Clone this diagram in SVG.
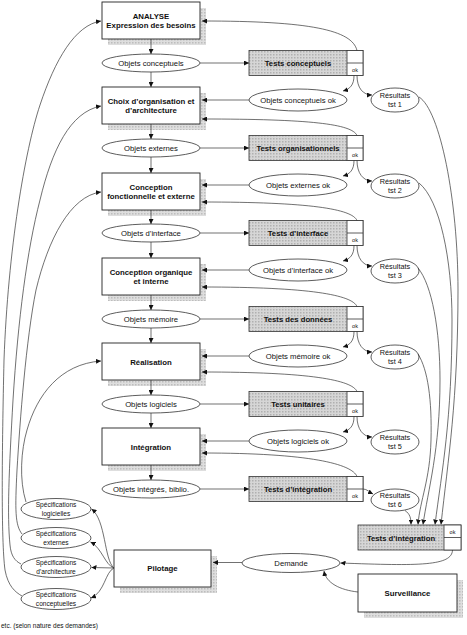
<svg xmlns="http://www.w3.org/2000/svg" width="467" height="635" viewBox="0 0 467 635">
<style>
text{font-family:"Liberation Sans",Arial,sans-serif;fill:#111;text-anchor:middle}
.b{font-weight:bold;font-size:7.8px}
.tb{font-weight:bold;font-size:7.7px}
.e{font-size:7.7px}
.r{font-size:7.3px}
.s{font-size:6.6px}
.ok{font-size:5.5px}
.box{fill:#fff;stroke:#222;stroke-width:0.9}
.sh{fill:url(#sh);stroke:none}
.ell{fill:#fff;stroke:#333;stroke-width:0.8}
.tst{fill:url(#tg);stroke:#333;stroke-width:0.8}
.cell{fill:#fff;stroke:#333;stroke-width:0.8}
.c{fill:none;stroke:#333;stroke-width:0.7}
.a{marker-end:url(#ar)}
</style>
<defs>
<pattern id="sh" width="3" height="3" patternUnits="userSpaceOnUse"><rect width="3" height="3" fill="#dedede"/><rect width="1.5" height="1.5" fill="#bdbdbd"/></pattern>
<pattern id="tg" width="3" height="3" patternUnits="userSpaceOnUse"><rect width="3" height="3" fill="#d6d6d6"/><rect width="1.5" height="1.5" fill="#b0b0b0"/></pattern>
<marker id="ar" viewBox="0 0 6 6" refX="6" refY="3" markerWidth="5" markerHeight="5" markerUnits="userSpaceOnUse" orient="auto"><path d="M0,0 L6,3 L0,6 z" fill="#111"/></marker>
</defs>

<!-- main column -->
<g id="analyse"><rect class="sh" x="108" y="8" width="98" height="37"/><rect class="box" x="102" y="2" width="98" height="37"/><text class="b" x="151" y="18.5">ANALYSE</text><text class="b" x="151" y="28">Expression des besoins</text></g>
<g id="choix"><rect class="sh" x="108" y="93" width="98" height="37"/><rect class="box" x="102" y="87" width="98" height="37"/><text class="b" x="151" y="103.5">Choix d’organisation et</text><text class="b" x="151" y="113">d’architecture</text></g>
<g id="conc-fonc"><rect class="sh" x="108" y="179" width="98" height="37"/><rect class="box" x="102" y="173" width="98" height="37"/><text class="b" x="151" y="189.5">Conception</text><text class="b" x="151" y="199">fonctionnelle et externe</text></g>
<g id="conc-org"><rect class="sh" x="108" y="264" width="98" height="37"/><rect class="box" x="102" y="258" width="98" height="37"/><text class="b" x="151" y="274.5">Conception organique</text><text class="b" x="151" y="284">et interne</text></g>
<g id="realisation"><rect class="sh" x="108" y="349" width="98" height="37"/><rect class="box" x="102" y="343" width="98" height="37"/><text class="b" x="151" y="364.5">Réalisation</text></g>
<g id="integration"><rect class="sh" x="108" y="434" width="98" height="37"/><rect class="box" x="102" y="428" width="98" height="37"/><text class="b" x="151" y="449.5">Intégration</text></g>

<g id="obj-conceptuels"><ellipse class="ell" cx="151" cy="63" rx="49" ry="9"/><text class="e" x="151" y="65.7">Objets conceptuels</text></g>
<g id="obj-externes"><ellipse class="ell" cx="151" cy="148" rx="49" ry="9"/><text class="e" x="151" y="150.7">Objets externes</text></g>
<g id="obj-interface"><ellipse class="ell" cx="151" cy="233" rx="49" ry="9"/><text class="e" x="151" y="235.7">Objets d’interface</text></g>
<g id="obj-memoire"><ellipse class="ell" cx="151" cy="319" rx="49" ry="9"/><text class="e" x="151" y="321.7">Objets mémoire</text></g>
<g id="obj-logiciels"><ellipse class="ell" cx="151" cy="404" rx="49" ry="9"/><text class="e" x="151" y="406.7">Objets logiciels</text></g>
<g id="obj-integres"><ellipse class="ell" cx="151" cy="489" rx="49" ry="9"/><text class="e" x="151" y="491.7">Objets intégrés, biblio.</text></g>

<!-- test boxes -->
<g id="t-conceptuels"><rect class="tst" x="249" y="50.5" width="114" height="25"/><rect class="cell" x="347" y="50.5" width="16" height="25"/><line class="cell" x1="347" y1="63" x2="363" y2="63"/><text class="tb" x="298" y="65.7">Tests conceptuels</text><text class="ok" x="355" y="71.5">ok</text></g>
<g id="t-organisationnels"><rect class="tst" x="249" y="135.5" width="114" height="25"/><rect class="cell" x="347" y="135.5" width="16" height="25"/><line class="cell" x1="347" y1="148" x2="363" y2="148"/><text class="tb" x="298" y="150.7">Tests organisationnels</text><text class="ok" x="355" y="156.5">ok</text></g>
<g id="t-interface"><rect class="tst" x="249" y="220.5" width="114" height="25"/><rect class="cell" x="347" y="220.5" width="16" height="25"/><line class="cell" x1="347" y1="233" x2="363" y2="233"/><text class="tb" x="298" y="235.7">Tests d’interface</text><text class="ok" x="355" y="241.5">ok</text></g>
<g id="t-donnees"><rect class="tst" x="249" y="306.5" width="114" height="25"/><rect class="cell" x="347" y="306.5" width="16" height="25"/><line class="cell" x1="347" y1="319" x2="363" y2="319"/><text class="tb" x="298" y="321.7">Tests des données</text><text class="ok" x="355" y="327.5">ok</text></g>
<g id="t-unitaires"><rect class="tst" x="249" y="391.5" width="114" height="25"/><rect class="cell" x="347" y="391.5" width="16" height="25"/><line class="cell" x1="347" y1="404" x2="363" y2="404"/><text class="tb" x="298" y="406.7">Tests unitaires</text><text class="ok" x="355" y="412.5">ok</text></g>
<g id="t-integration"><rect class="tst" x="249" y="476.5" width="114" height="25"/><rect class="cell" x="347" y="476.5" width="16" height="25"/><line class="cell" x1="347" y1="489" x2="363" y2="489"/><text class="tb" x="298" y="491.7">Tests d’intégration</text><text class="ok" x="355" y="497.5">ok</text></g>

<!-- ok ellipses -->
<g id="ok-conceptuels"><ellipse class="ell" cx="298" cy="100" rx="49" ry="11"/><text class="e" x="298" y="102.7">Objets conceptuels ok</text></g>
<g id="ok-externes"><ellipse class="ell" cx="298" cy="185" rx="49" ry="11"/><text class="e" x="298" y="187.7">Objets externes ok</text></g>
<g id="ok-interface"><ellipse class="ell" cx="298" cy="270" rx="49" ry="11"/><text class="e" x="298" y="272.7">Objets d’interface ok</text></g>
<g id="ok-memoire"><ellipse class="ell" cx="298" cy="356" rx="49" ry="11"/><text class="e" x="298" y="358.7">Objets mémoire ok</text></g>
<g id="ok-logiciels"><ellipse class="ell" cx="298" cy="441" rx="49" ry="11"/><text class="e" x="298" y="443.7">Objets logiciels ok</text></g>

<!-- résultats -->
<g id="res1"><ellipse class="ell" cx="395" cy="100" rx="24" ry="12"/><text class="r" x="395" y="97.5">Résultats</text><text class="r" x="395" y="106.5">tst 1</text></g>
<g id="res2"><ellipse class="ell" cx="395" cy="186" rx="24" ry="12"/><text class="r" x="395" y="183.5">Résultats</text><text class="r" x="395" y="192.5">tst 2</text></g>
<g id="res3"><ellipse class="ell" cx="395" cy="271" rx="24" ry="12"/><text class="r" x="395" y="268.5">Résultats</text><text class="r" x="395" y="277.5">tst 3</text></g>
<g id="res4"><ellipse class="ell" cx="395" cy="357" rx="24" ry="12"/><text class="r" x="395" y="354.5">Résultats</text><text class="r" x="395" y="363.5">tst 4</text></g>
<g id="res5"><ellipse class="ell" cx="395" cy="442" rx="24" ry="12"/><text class="r" x="395" y="439.5">Résultats</text><text class="r" x="395" y="448.5">tst 5</text></g>
<g id="res6"><ellipse class="ell" cx="395" cy="500" rx="24" ry="11"/><text class="r" x="395" y="497.5">Résultats</text><text class="r" x="395" y="506.5">tst 6</text></g>

<!-- bottom -->
<g id="t-integration-final"><rect class="tst" x="358" y="525" width="103" height="25"/><rect class="cell" x="444" y="525" width="17" height="25"/><line class="cell" x1="444" y1="537.5" x2="461" y2="537.5"/><text class="tb" x="401" y="540.7">Tests d’intégration</text><text class="ok" x="452.5" y="533.5">ok</text></g>
<g id="demande"><ellipse class="ell" cx="291" cy="563" rx="49" ry="9.5"/><text class="e" x="291" y="565.7">Demande</text></g>
<g id="surveillance"><rect class="sh" x="364" y="580" width="99" height="38"/><rect class="box" x="358" y="574" width="99" height="38"/><text class="b" x="407.5" y="596">Surveillance</text></g>
<g id="pilotage"><rect class="sh" x="120" y="556" width="97" height="37"/><rect class="box" x="114" y="550" width="97" height="37"/><text class="b" x="162.5" y="571">Pilotage</text></g>

<g id="spec-logicielles"><ellipse class="ell" cx="56" cy="509" rx="35" ry="10.5"/><text class="s" x="56" y="507">Spécifications</text><text class="s" x="56" y="515.5">logicielles</text></g>
<g id="spec-externes"><ellipse class="ell" cx="56" cy="538" rx="35" ry="10.5"/><text class="s" x="56" y="536">Spécifications</text><text class="s" x="56" y="544.5">externes</text></g>
<g id="spec-architecture"><ellipse class="ell" cx="56" cy="567" rx="35" ry="10.5"/><text class="s" x="56" y="565">Spécifications</text><text class="s" x="56" y="573.5">d’architecture</text></g>
<g id="spec-conceptuelles"><ellipse class="ell" cx="56" cy="599" rx="35" ry="10.5"/><text class="s" x="56" y="597">Spécifications</text><text class="s" x="56" y="605.5">conceptuelles</text></g>

<text x="1" y="628" style="font-size:6.5px;text-anchor:start">etc. (selon nature des demandes)</text>

<g id="connectors" class="c">
<!-- vertical chain -->
<path class="a" d="M151,39 L151,54"/>
<path class="a" d="M151,72 L151,87"/>
<path class="a" d="M151,124 L151,139"/>
<path class="a" d="M151,157 L151,173"/>
<path class="a" d="M151,210 L151,224"/>
<path class="a" d="M151,242 L151,258"/>
<path class="a" d="M151,295 L151,310"/>
<path class="a" d="M151,328 L151,343"/>
<path class="a" d="M151,380 L151,395"/>
<path class="a" d="M151,413 L151,428"/>
<path class="a" d="M151,465 L151,480"/>
<!-- objets -> tests -->
<path class="a" d="M200,63 L249,63"/>
<path class="a" d="M200,148 L249,148"/>
<path class="a" d="M200,233 L249,233"/>
<path class="a" d="M200,319 L249,319"/>
<path class="a" d="M200,404 L249,404"/>
<path class="a" d="M200,489 L249,489"/>
<!-- ok -> next box -->
<path class="a" d="M249,100 L202,100"/>
<path class="a" d="M249,185 L202,185"/>
<path class="a" d="M249,270 L202,270"/>
<path class="a" d="M249,356 L202,356"/>
<path class="a" d="M249,441 L202,441"/>
<!-- test top cell -> box -->
<path class="a" d="M357,50.5 C352,30 310,21 202,21"/>
<path class="a" d="M357,135.5 C352,124 310,119 202,119"/>
<path class="a" d="M357,220.5 C352,209 310,202 202,202"/>
<path class="a" d="M357,306.5 C352,295 310,287 202,287"/>
<path class="a" d="M357,391.5 C352,380 310,372 202,372"/>
<path class="a" d="M357,476.5 C352,464 310,453 202,453"/>
<!-- ok cell -> ok ellipse / résultats -->
<path class="a" d="M354,75.5 C354,85 350,89 343,91"/>
<path class="a" d="M357,75.5 C357,88 363,95 372,95"/>
<path class="a" d="M354,160.5 C354,170 350,174 343,176"/>
<path class="a" d="M357,160.5 C357,173 363,181 372,181"/>
<path class="a" d="M354,245.5 C354,255 350,259 343,261"/>
<path class="a" d="M357,245.5 C357,258 363,266 372,266"/>
<path class="a" d="M354,331.5 C354,341 350,345 343,347"/>
<path class="a" d="M357,331.5 C357,344 363,352 372,352"/>
<path class="a" d="M354,416.5 C354,426 350,430 343,432"/>
<path class="a" d="M357,416.5 C357,429 363,437 372,437"/>
<path class="a" d="M363,489 C367,489 369,492 373,494"/>
<!-- résultats -> final tests -->
<path class="a" d="M419,97 C440,110 458,200 458,290 C458,400 448,460 441,524.5"/>
<path class="a" d="M419,183 C440,200 452,260 452,320 C452,420 442,470 435,524.5"/>
<path class="a" d="M418,268 C432,285 440,330 440,380 C440,450 428,490 423,524.5"/>
<path class="a" d="M418,354 C428,370 432,400 431,440 C430,480 420,500 418,524.5"/>
<path class="a" d="M405,510.5 C410,514 411,518 411,524.5"/>
<!-- bottom -->
<path class="a" d="M452.5,550 C452,566 420,566 340.5,563"/>
<path class="a" d="M358,592 C340,590 326,583 324,571"/>
<path class="a" d="M242,562.5 L213,562.5"/>
<path class="a" d="M114,568 C104,560 106,520 91.5,509"/>
<path class="a" d="M114,568 C105,565 102,548 90.5,542"/>
<path class="a" d="M114,568 L91.5,567.5"/>
<path class="a" d="M114,568 C105,572 105,592 91,598"/>
<!-- spécifications -> main boxes -->
<path class="a" d="M22,596 C15,592 8,586 5,570 C1,540 2,450 4,360 C8,250 25,150 40,105 C55,60 75,25 101,21"/>
<path class="a" d="M21,564 C15,561 11,556 10,545 C7,515 9,470 13,400 C18,320 27,250 40,200 C52,150 70,112 101,106"/>
<path class="a" d="M22,534 C15,525 15,510 17,470 C20,420 26,340 36,290 C48,240 70,196 101,192"/>
<path class="a" d="M26,502 C19,480 21,450 27,430 C37,395 60,364 101,361"/>
</g>
</svg>
